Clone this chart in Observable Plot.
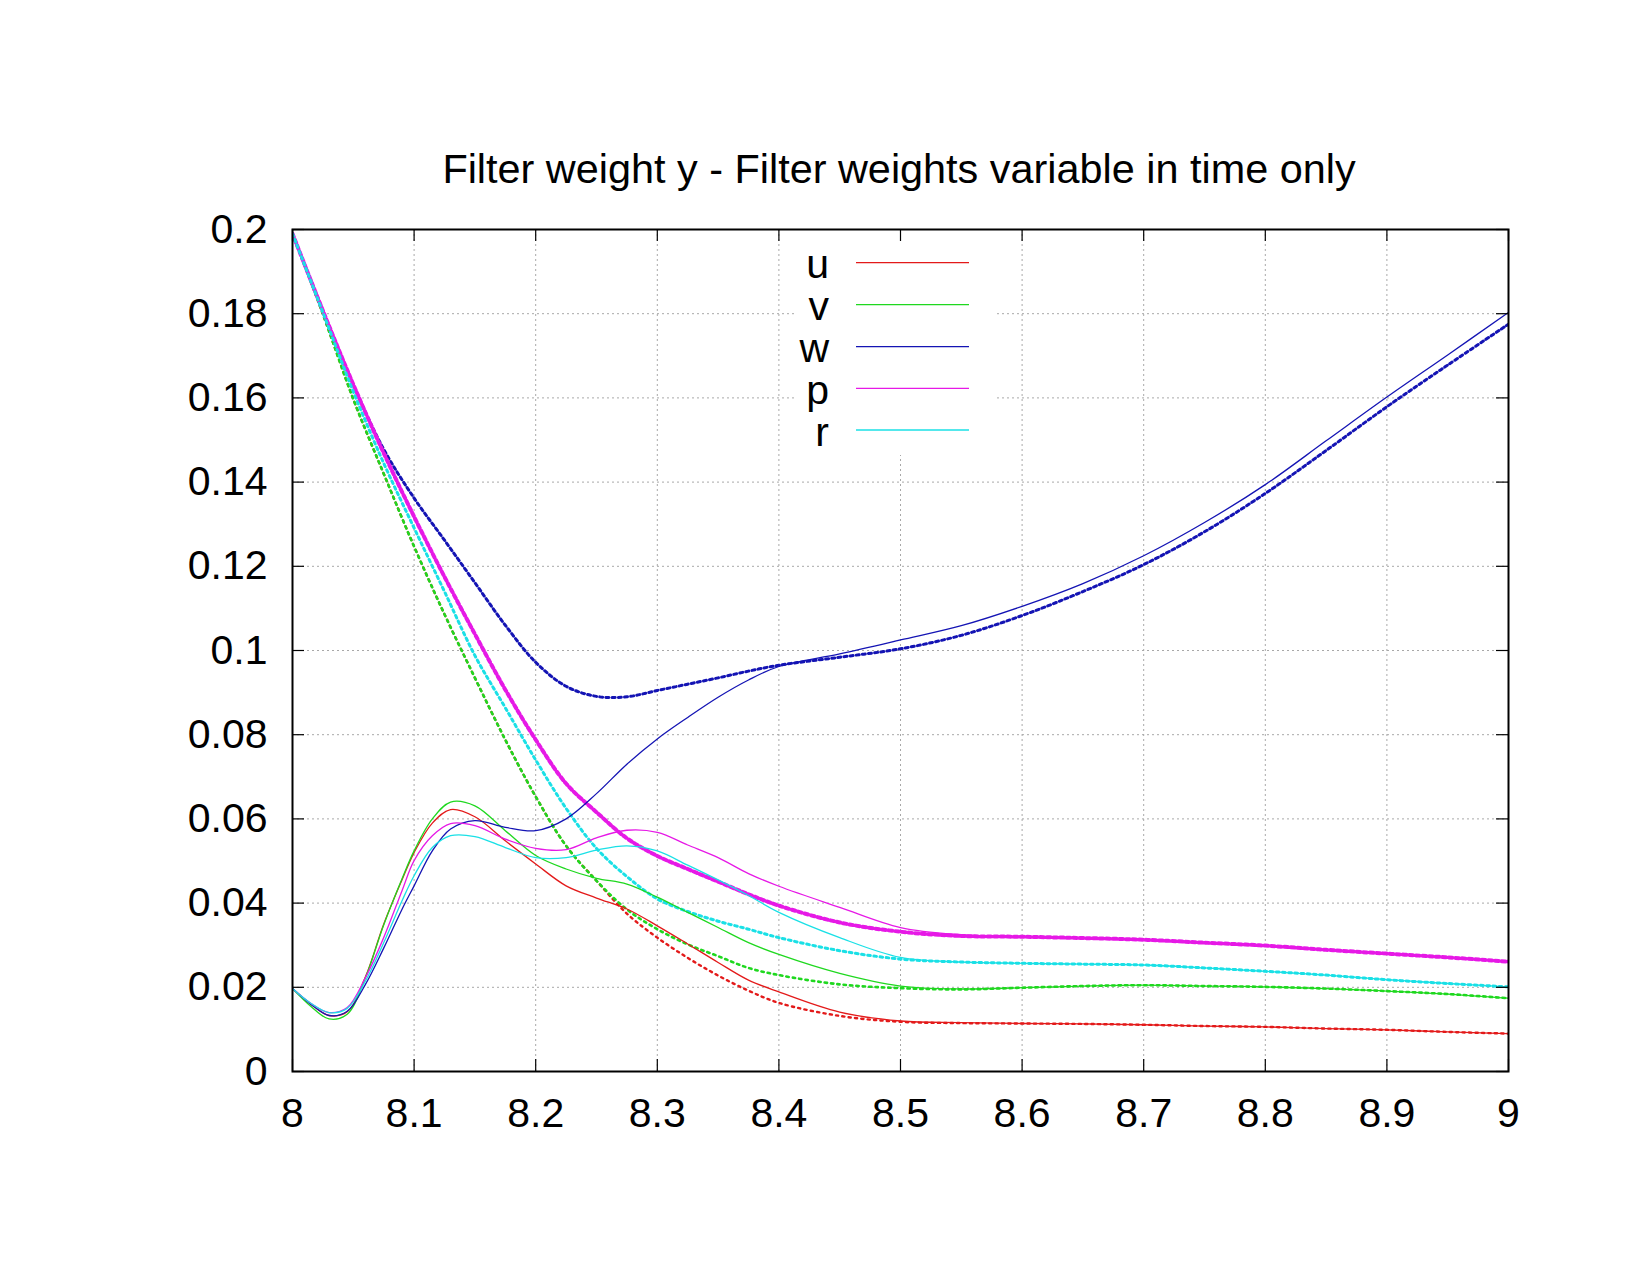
<!DOCTYPE html>
<html><head><meta charset="utf-8">
<script src="https://cdn.jsdelivr.net/npm/d3@7"></script>
<script src="https://cdn.jsdelivr.net/npm/@observablehq/plot@0.6"></script>
<style>
html,body{margin:0;padding:0;background:#fff;}
#wrap{position:relative;width:1650px;height:1275px;font-family:"Liberation Sans",Arial,Helvetica,sans-serif;overflow:hidden;}
#title{position:absolute;left:299px;width:1200px;top:145px;font-size:41.4px;line-height:48px;text-align:center;color:#000;white-space:nowrap;}
#chart{position:absolute;left:0;top:200px;}
#key{position:absolute;left:790px;top:229px;}
</style></head><body>
<div id="wrap"><div id="title"></div><div id="chart"></div><div id="key"></div></div>
<script>
const titleText = "Filter weight y - Filter weights variable in time only";
const seriesNames = ["u", "v", "w", "p", "r"];
const seriesColors = ["#e31a1a", "#1fd81f", "#1414b4", "#e619e6", "#1ae0e6"];
const xTicks = [8, 8.1, 8.2, 8.3, 8.4, 8.5, 8.6, 8.7, 8.8, 8.9, 9];
const yTicks = [0, 0.02, 0.04, 0.06, 0.08, 0.1, 0.12, 0.14, 0.16, 0.18, 0.2];

// solid curves
const xSolid = [8.0, 8.015, 8.03, 8.045, 8.06, 8.075, 8.09, 8.1, 8.115, 8.13, 8.15, 8.175, 8.2, 8.225, 8.25, 8.275, 8.3, 8.325, 8.35, 8.375, 8.4, 8.45, 8.5, 8.55, 8.6, 8.65, 8.7, 8.75, 8.8, 8.85, 8.9, 8.95, 9.0];
const uSolid = [0.0197, 0.0160, 0.0133, 0.0142, 0.0225, 0.0350, 0.0455, 0.0520, 0.0590, 0.0622, 0.0605, 0.0548, 0.0493, 0.0441, 0.0412, 0.0386, 0.0346, 0.0303, 0.0259, 0.0217, 0.0189, 0.0141, 0.0120, 0.0116, 0.0114, 0.0113, 0.0111, 0.0108, 0.0106, 0.0102, 0.0099, 0.0094, 0.0090];
const vSolid = [0.0197, 0.0155, 0.0125, 0.0136, 0.0223, 0.0348, 0.0457, 0.0524, 0.0600, 0.0640, 0.0631, 0.0572, 0.0513, 0.0481, 0.0459, 0.0445, 0.0414, 0.0378, 0.0342, 0.0306, 0.0278, 0.0233, 0.0203, 0.0196, 0.0199, 0.0203, 0.0205, 0.0203, 0.0201, 0.0197, 0.0191, 0.0184, 0.0174];
const wSolid = [0.0197, 0.0160, 0.0133, 0.0143, 0.0207, 0.0293, 0.0385, 0.0441, 0.0524, 0.0576, 0.0596, 0.0580, 0.0572, 0.0600, 0.0660, 0.0730, 0.0790, 0.0841, 0.0889, 0.0930, 0.0962, 0.0992, 0.1025, 0.1059, 0.1105, 0.1159, 0.1225, 0.1304, 0.1394, 0.1498, 0.1602, 0.1702, 0.1803];
const pSolid = [0.0197, 0.0162, 0.0140, 0.0152, 0.0223, 0.0318, 0.0429, 0.0501, 0.0560, 0.0589, 0.0584, 0.0552, 0.0530, 0.0527, 0.0555, 0.0573, 0.0568, 0.0538, 0.0508, 0.0470, 0.0440, 0.0390, 0.0342, 0.0325, 0.0320, 0.0317, 0.0313, 0.0306, 0.0299, 0.0289, 0.0280, 0.0271, 0.0261];
const rSolid = [0.0197, 0.0162, 0.0140, 0.0150, 0.0215, 0.0306, 0.0405, 0.0465, 0.0532, 0.0560, 0.0558, 0.0532, 0.0508, 0.0508, 0.0526, 0.0536, 0.0524, 0.0490, 0.0455, 0.0418, 0.0378, 0.0318, 0.0271, 0.0260, 0.0257, 0.0255, 0.0253, 0.0246, 0.0238, 0.0229, 0.0218, 0.0209, 0.0201];

// dotted (point) curves
const xDotted = [8.0, 8.025, 8.05, 8.075, 8.1, 8.125, 8.15, 8.175, 8.2, 8.225, 8.25, 8.275, 8.3, 8.325, 8.35, 8.375, 8.4, 8.45, 8.5, 8.55, 8.6, 8.65, 8.7, 8.75, 8.8, 8.85, 8.9, 8.95, 9.0];
const uDotted = [0.1990, 0.1799, 0.1597, 0.1420, 0.1247, 0.1086, 0.0935, 0.0788, 0.0653, 0.0536, 0.0453, 0.0375, 0.0318, 0.0270, 0.0228, 0.0192, 0.0163, 0.0132, 0.0118, 0.0115, 0.0114, 0.0113, 0.0111, 0.0108, 0.0106, 0.0102, 0.0099, 0.0094, 0.0090];
const vDotted = [0.1990, 0.1799, 0.1597, 0.1420, 0.1247, 0.1086, 0.0935, 0.0788, 0.0653, 0.0536, 0.0453, 0.0385, 0.0338, 0.0302, 0.0274, 0.0246, 0.0229, 0.0207, 0.0198, 0.0195, 0.0199, 0.0203, 0.0205, 0.0203, 0.0201, 0.0197, 0.0191, 0.0184, 0.0174];
const wDotted = [0.1990, 0.1807, 0.1630, 0.1478, 0.1362, 0.1262, 0.1161, 0.1060, 0.0972, 0.0915, 0.0891, 0.0890, 0.0905, 0.0920, 0.0935, 0.0951, 0.0965, 0.0984, 0.1004, 0.1036, 0.1083, 0.1140, 0.1204, 0.1282, 0.1373, 0.1475, 0.1579, 0.1678, 0.1775];
const pDotted = [0.1990, 0.1807, 0.1632, 0.1469, 0.1318, 0.1175, 0.1039, 0.0907, 0.0788, 0.0684, 0.0616, 0.0554, 0.0512, 0.0481, 0.0451, 0.0421, 0.0394, 0.0354, 0.0332, 0.0322, 0.0320, 0.0317, 0.0313, 0.0306, 0.0299, 0.0289, 0.0280, 0.0271, 0.0261];
const rDotted = [0.1990, 0.1803, 0.1615, 0.1445, 0.1291, 0.1140, 0.0988, 0.0864, 0.0740, 0.0625, 0.0530, 0.0463, 0.0410, 0.0380, 0.0357, 0.0338, 0.0318, 0.0287, 0.0267, 0.0260, 0.0257, 0.0255, 0.0253, 0.0246, 0.0238, 0.0229, 0.0218, 0.0209, 0.0201];

const solids = [uSolid, vSolid, wSolid, pSolid, rSolid];
const dotteds = [uDotted, vDotted, wDotted, pDotted, rDotted];
const dotStyle = [
  {strokeWidth: 2.4, strokeDasharray: "2.2,4.2"},
  {strokeWidth: 2.6, strokeDasharray: "2.4,4"},
  {strokeWidth: 3.0, strokeDasharray: "3,3.2"},
  {strokeWidth: 4.0, strokeDasharray: "3.6,3"},
  {strokeWidth: 3.0, strokeDasharray: "2.6,3.6"}
];

const W = 1650, H = 1075;
const mL = 292, mR = 142, mT = 29, mB = 204;
const plotW = W - mL - mR, plotH = H - mT - mB;
const tickLen = 12;
const fmt = d3.format("~g");

const toRows = (xs, ys) => xs.map((x, i) => ({x, y: ys[i]}));

const marks = [
  Plot.gridX(xTicks, {stroke: "#a8a8a8", strokeOpacity: 1, strokeWidth: 1, strokeDasharray: "2,3"}),
  Plot.gridY(yTicks, {stroke: "#a8a8a8", strokeOpacity: 1, strokeWidth: 1, strokeDasharray: "2,3"})
];
seriesNames.forEach((n, i) => {
  marks.push(Plot.line(toRows(xDotted, dotteds[i]), {x: "x", y: "y", stroke: seriesColors[i], curve: "catmull-rom", clip: true, ...dotStyle[i]}));
});
seriesNames.forEach((n, i) => {
  marks.push(Plot.line(toRows(xSolid, solids[i]), {x: "x", y: "y", stroke: seriesColors[i], strokeWidth: 1.3, curve: "catmull-rom", clip: true}));
});
marks.push(
  Plot.tickX(xTicks, {x: d => d, insetTop: plotH - tickLen, stroke: "#000", strokeWidth: 1.2}),
  Plot.tickX(xTicks, {x: d => d, insetBottom: plotH - tickLen, stroke: "#000", strokeWidth: 1.2}),
  Plot.tickY(yTicks, {y: d => d, insetRight: plotW - tickLen, stroke: "#000", strokeWidth: 1.2}),
  Plot.tickY(yTicks, {y: d => d, insetLeft: plotW - tickLen, stroke: "#000", strokeWidth: 1.2}),
  Plot.axisX(xTicks, {tickSize: 0, tickPadding: 26, fontSize: 41, tickFormat: fmt, fill: "#000", label: null}),
  Plot.axisY(yTicks, {tickSize: 0, tickPadding: 25, fontSize: 41, tickFormat: fmt, fill: "#000", label: null}),
  Plot.frame({stroke: "#000", strokeWidth: 2})
);

const chart = Plot.plot({
  width: W, height: H,
  marginLeft: mL, marginRight: mR, marginTop: mT, marginBottom: mB,
  x: {domain: [8, 9], label: null},
  y: {domain: [0, 0.2], label: null},
  style: {fontFamily: "'Liberation Sans', Arial, Helvetica, sans-serif", background: "#fff", color: "#000"},
  marks
});
document.getElementById("chart").appendChild(chart);
document.getElementById("title").textContent = titleText;

// key (opaque box inside plot area, like gnuplot "key opaque")
const keyRowsY = [262.7, 304.7, 346.7, 388.3, 430];
const keyLeft = 790, keyTop = 229, keyW = 210, keyH = 232;
const ksvg = d3.select("#key").append("svg").attr("width", keyW).attr("height", keyH)
  .style("overflow", "visible")
  .style("font-family", "'Liberation Sans', Arial, Helvetica, sans-serif");
ksvg.append("rect").attr("x", 5).attr("y", 14).attr("width", 200).attr("height", 212).attr("fill", "#fff");
seriesNames.forEach((n, i) => {
  const yy = keyRowsY[i] - keyTop;
  ksvg.append("text").attr("x", 829 - keyLeft).attr("y", yy + 15.6)
    .attr("text-anchor", "end").attr("font-size", 41).attr("fill", "#000").text(n);
  ksvg.append("line").attr("x1", 856 - keyLeft).attr("x2", 969 - keyLeft)
    .attr("y1", yy).attr("y2", yy).attr("stroke", seriesColors[i]).attr("stroke-width", 1.3);
});
</script></body></html>
